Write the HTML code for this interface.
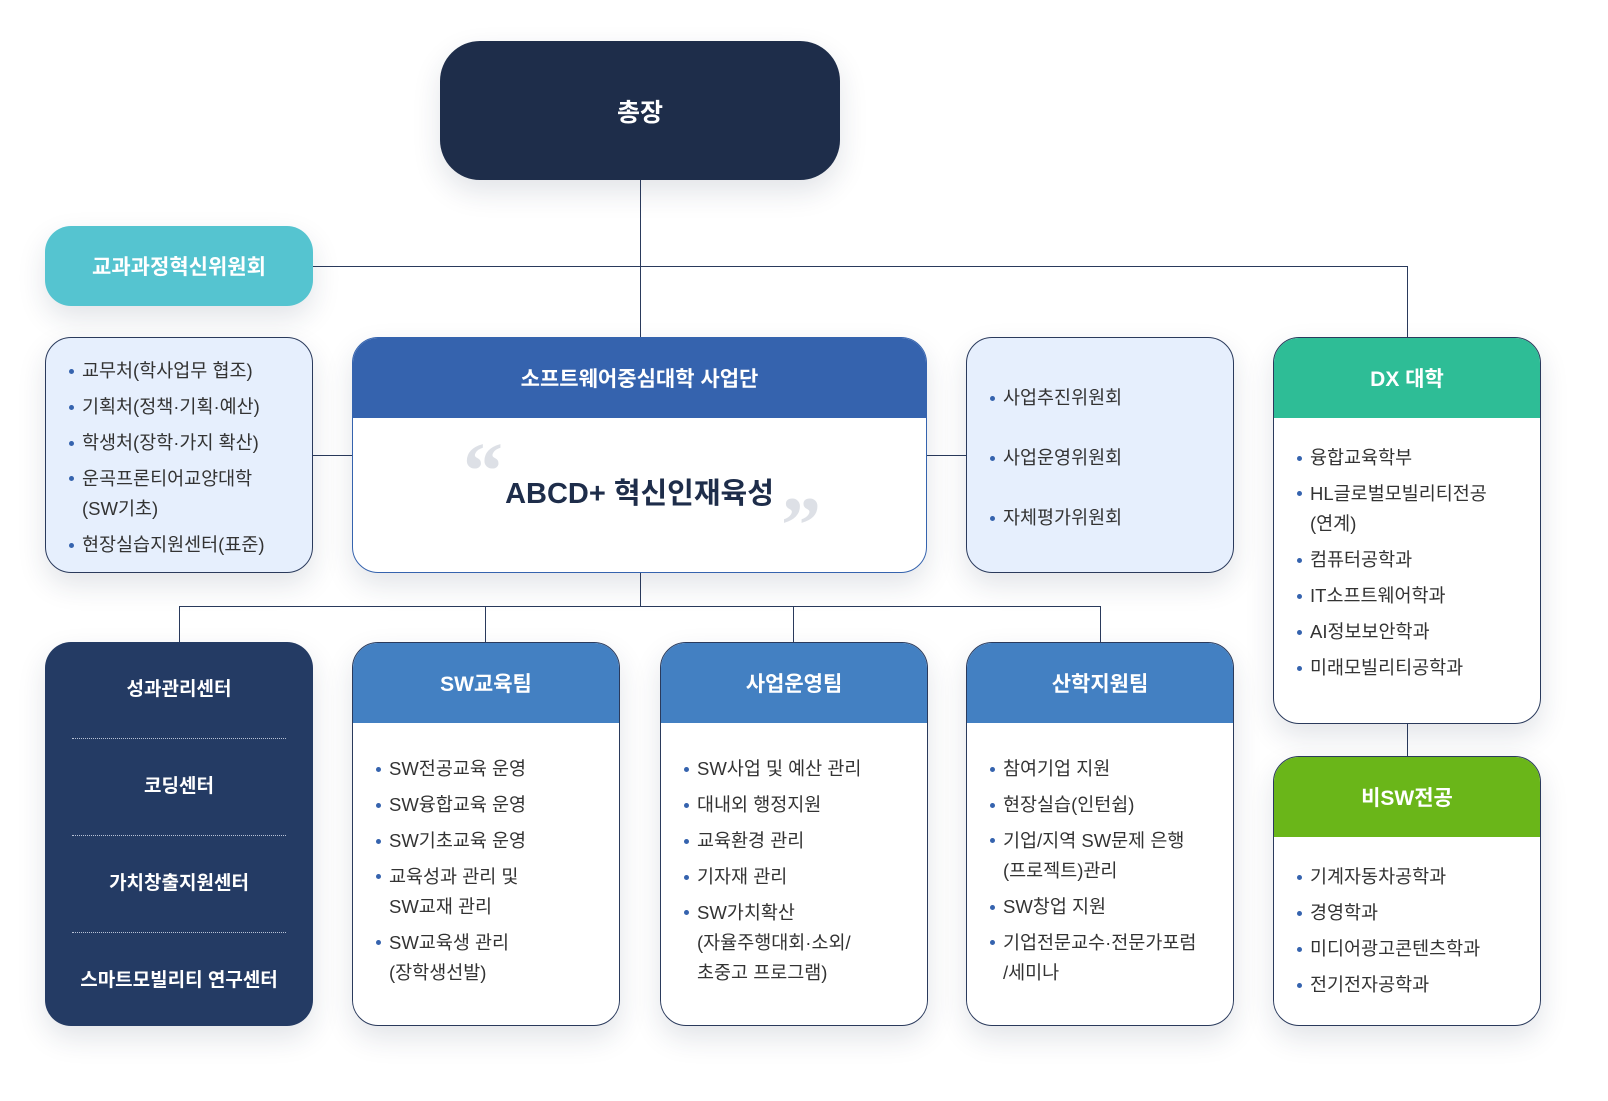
<!DOCTYPE html>
<html><head><meta charset="utf-8"><style>
*{box-sizing:border-box;margin:0;padding:0}
body{width:1608px;height:1101px;background:#fff;position:relative;overflow:hidden;font-family:"Liberation Sans","Noto Sans CJK KR",sans-serif;color:#333}
.b{position:absolute;border-radius:26px;overflow:hidden;box-shadow:0 12px 28px rgba(30,45,80,0.13)}
.ln{position:absolute;background:#2a3a5c}
.hd{height:80px;display:flex;align-items:center;justify-content:center;color:#fff;font-weight:bold;font-size:21px}
.lt{list-style:none;font-size:18.5px;line-height:36px;color:#333}
.lt li{position:relative;padding-left:14px}
.lt li.m{line-height:30px;padding-top:3px;padding-bottom:3px}
.lt li:before{content:"";position:absolute;left:1px;top:16px;width:5px;height:5px;border-radius:50%;background:#3563ae}
.lt li.m:before{top:15px}
.wb{background:#fff;border:1px solid #2a3a5c}
.lb{background:#e6effd;border:1px solid #2a3a5c}
.cm li{line-height:60px}
.cm li:before{top:28px}
</style></head><body>
<div class="ln" style="left:640px;top:180px;width:1px;height:157px"></div>
<div class="ln" style="left:313px;top:266px;width:1095px;height:1px"></div>
<div class="ln" style="left:1407px;top:266px;width:1px;height:71px"></div>
<div class="ln" style="left:313px;top:455px;width:40px;height:1px"></div>
<div class="ln" style="left:927px;top:455px;width:40px;height:1px"></div>
<div class="ln" style="left:640px;top:573px;width:1px;height:34px"></div>
<div class="ln" style="left:179px;top:606px;width:922px;height:1px"></div>
<div class="ln" style="left:179px;top:606px;width:1px;height:36px"></div>
<div class="ln" style="left:485px;top:606px;width:1px;height:36px"></div>
<div class="ln" style="left:793px;top:606px;width:1px;height:36px"></div>
<div class="ln" style="left:1100px;top:606px;width:1px;height:36px"></div>
<div class="ln" style="left:1407px;top:724px;width:1px;height:32px"></div>

<div class="b" style="left:440px;top:41px;width:400px;height:139px;background:#1e2d4a;border-radius:40px;display:flex;align-items:center;justify-content:center;color:#fff;font-weight:bold;font-size:25px">총장</div>

<div class="b" style="left:45px;top:226px;width:268px;height:80px;background:#55c4d0;display:flex;align-items:center;justify-content:center;color:#fff;font-weight:bold;font-size:21px">교과과정혁신위원회</div>

<div class="b lb" style="left:45px;top:337px;width:268px;height:236px;padding:15px 0 0 22px">
<ul class="lt"><li>교무처(학사업무 협조)</li><li>기획처(정책·기획·예산)</li><li>학생처(장학·가지 확산)</li><li class="m">운곡프론티어교양대학<br>(SW기초)</li><li>현장실습지원센터(표준)</li></ul></div>

<div class="b wb" style="left:352px;top:337px;width:575px;height:236px;border-color:#3563ae">
<div class="hd" style="background:#3563ae">소프트웨어중심대학 사업단</div>
<div style="position:absolute;left:110px;top:94px;font-size:80px;line-height:80px;color:#dde0e6;font-family:'Liberation Serif',serif;font-weight:bold">&ldquo;</div>
<div style="position:absolute;left:0;width:100%;top:132px;text-align:center;font-size:29px;font-weight:bold;color:#1e2d4a">ABCD+ 혁신인재육성</div>
<div style="position:absolute;left:428px;top:148px;font-size:80px;line-height:80px;color:#dde0e6;font-family:'Liberation Serif',serif;font-weight:bold">&rdquo;</div>
</div>

<div class="b lb" style="left:966px;top:337px;width:268px;height:236px;padding:30px 0 0 22px">
<ul class="lt cm"><li>사업추진위원회</li><li>사업운영위원회</li><li>자체평가위원회</li></ul></div>

<div class="b wb" style="left:1273px;top:337px;width:268px;height:387px">
<div class="hd" style="background:#2ebd96">DX 대학</div>
<ul class="lt" style="padding:22px 0 0 22px"><li>융합교육학부</li><li class="m">HL글로벌모빌리티전공<br>(연계)</li><li>컴퓨터공학과</li><li>IT소프트웨어학과</li><li>AI정보보안학과</li><li>미래모빌리티공학과</li></ul></div>

<div class="b wb" style="left:1273px;top:756px;width:268px;height:270px">
<div class="hd" style="background:#6ab619">비SW전공</div>
<ul class="lt" style="padding:22px 0 0 22px"><li>기계자동차공학과</li><li>경영학과</li><li>미디어광고콘텐츠학과</li><li>전기전자공학과</li></ul></div>

<div class="b" style="left:45px;top:642px;width:268px;height:384px;background:#243b64;color:#fff;font-weight:bold;font-size:19px;text-align:center">
<div style="height:96px;line-height:96px">성과관리센터</div>
<div style="margin:0 27px;border-top:1px dotted #b8c2d6"></div>
<div style="height:96px;line-height:96px">코딩센터</div>
<div style="margin:0 27px;border-top:1px dotted #b8c2d6"></div>
<div style="height:96px;line-height:96px">가치창출지원센터</div>
<div style="margin:0 27px;border-top:1px dotted #b8c2d6"></div>
<div style="height:96px;line-height:96px">스마트모빌리티 연구센터</div>
</div>

<div class="b wb" style="left:352px;top:642px;width:268px;height:384px">
<div class="hd" style="background:#4380c2">SW교육팀</div>
<ul class="lt" style="padding:28px 0 0 22px"><li>SW전공교육 운영</li><li>SW융합교육 운영</li><li>SW기초교육 운영</li><li class="m">교육성과 관리 및<br>SW교재 관리</li><li class="m">SW교육생 관리<br>(장학생선발)</li></ul></div>

<div class="b wb" style="left:660px;top:642px;width:268px;height:384px">
<div class="hd" style="background:#4380c2">사업운영팀</div>
<ul class="lt" style="padding:28px 0 0 22px"><li>SW사업 및 예산 관리</li><li>대내외 행정지원</li><li>교육환경 관리</li><li>기자재 관리</li><li class="m">SW가치확산<br>(자율주행대회·소외/<br>초중고 프로그램)</li></ul></div>

<div class="b wb" style="left:966px;top:642px;width:268px;height:384px">
<div class="hd" style="background:#4380c2">산학지원팀</div>
<ul class="lt" style="padding:28px 0 0 22px"><li>참여기업 지원</li><li>현장실습(인턴쉽)</li><li class="m">기업/지역 SW문제 은행<br>(프로젝트)관리</li><li>SW창업 지원</li><li class="m">기업전문교수·전문가포럼<br>/세미나</li></ul></div>
</body></html>
